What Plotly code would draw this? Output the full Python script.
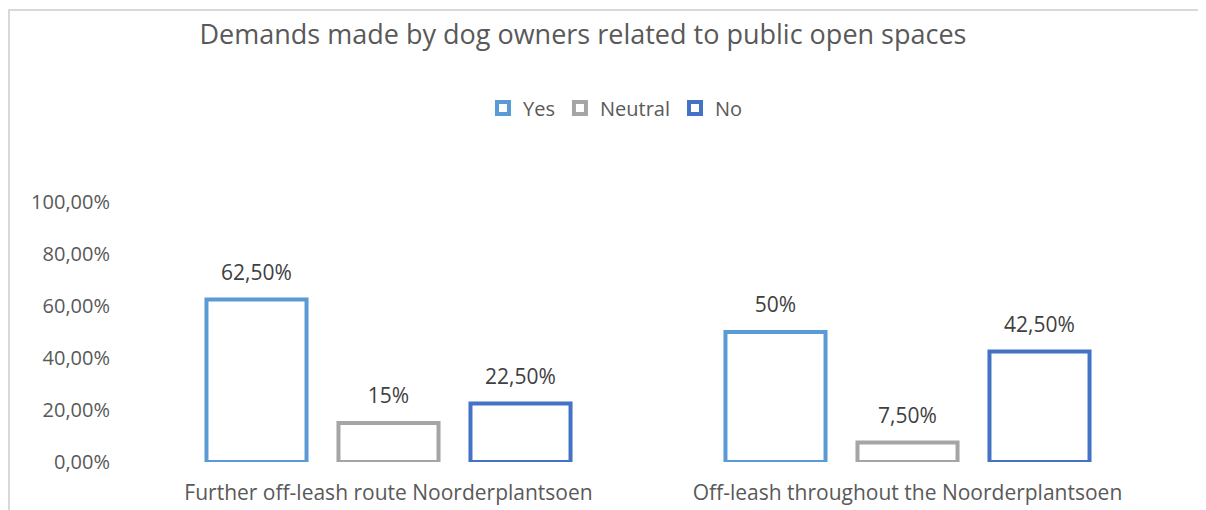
import plotly.graph_objects as go

categories = ["Further off-leash route Noorderplantsoen", "Off-leash throughout the Noorderplantsoen"]
series_names = ["Yes", "Neutral", "No"]
yes_vals = [0.625, 0.50]
neutral_vals = [0.15, 0.075]
no_vals = [0.225, 0.425]
colors = ["#5B9BD5", "#A5A5A5", "#4472C4"]
y_ticks = [0, 0.2, 0.4, 0.6, 0.8, 1.0]

def fmt(v):
    p = round(v * 100, 2)
    if abs(p - round(p)) < 1e-9:
        return f"{int(round(p))}%"
    return f"{p:.2f}".replace(".", ",") + "%"

W, H = 1206, 510
OFF = 8  # page body margin
L, R, T, B = 129 - OFF, W - (1167 - OFF), 202 - OFF, H - (462 - OFF)
FONT = "'Open Sans', sans-serif"
GAP = 0.237

fig = go.Figure()
for name, vals, col in zip(series_names, [yes_vals, neutral_vals, no_vals], colors):
    fig.add_trace(go.Bar(
        name=name, x=categories, y=vals,
        marker=dict(color="white", line=dict(color=col, width=4)),
        cliponaxis=False, hoverinfo="skip",
    ))
for name, vals in zip(series_names, [yes_vals, neutral_vals, no_vals]):
    fig.add_trace(go.Scatter(
        name=name + " label", x=categories, y=vals, mode="markers+text",
        marker=dict(size=22, color="rgba(0,0,0,0)"),
        text=[fmt(v) for v in vals], textposition="top center",
        textfont=dict(size=21, color="#404040", family=FONT),
        showlegend=False, cliponaxis=False, hoverinfo="skip",
    ))

pw = W - L - R
ph = H - T - B

def px(x):
    return (x - L) / pw

def py(y):
    return (H - B - y) / ph

fig.update_layout(
    width=W, height=H,
    margin=dict(l=L, r=R, t=T, b=B),
    paper_bgcolor="white", plot_bgcolor="white",
    separators=",.",
    barmode="group", bargap=GAP, bargroupgap=0.242,
    scattermode="group", scattergap=GAP,
    font=dict(family=FONT, color="#595959"),
    title=dict(text="Demands made by dog owners related to public open spaces",
               x=(583 - OFF) / W, xanchor="center", y=1 - (35 - OFF) / H, yanchor="middle",
               font=dict(size=27, color="#595959", family=FONT)),
    legend=dict(orientation="h", x=px(483 - OFF), xanchor="left", y=py(108 - OFF), yanchor="middle",
                font=dict(size=20, color="#595959", family=FONT),
                traceorder="normal", bgcolor="rgba(0,0,0,0)"),
    xaxis=dict(showline=False, showgrid=False, ticks="", ticklabelstandoff=16,
               tickfont=dict(size=21, color="#595959"), fixedrange=True),
    yaxis=dict(range=[0, 1.0], tickvals=y_ticks, tickformat=".2%", showgrid=False,
               showline=False, zeroline=False, ticks="", ticklabelstandoff=18,
               tickfont=dict(size=20, color="#595959"), fixedrange=True),
    showlegend=True,
    shapes=[
        dict(type="line", xref="paper", yref="paper", x0=px(0), x1=px(W + 5), y0=py(2), y1=py(2),
             line=dict(color="#D9D9D9", width=2)),
        dict(type="line", xref="paper", yref="paper", x0=px(1), x1=px(1), y0=py(2), y1=py(H + 5),
             line=dict(color="#D9D9D9", width=2)),
    ],
)

fig.write_html("out.html")
